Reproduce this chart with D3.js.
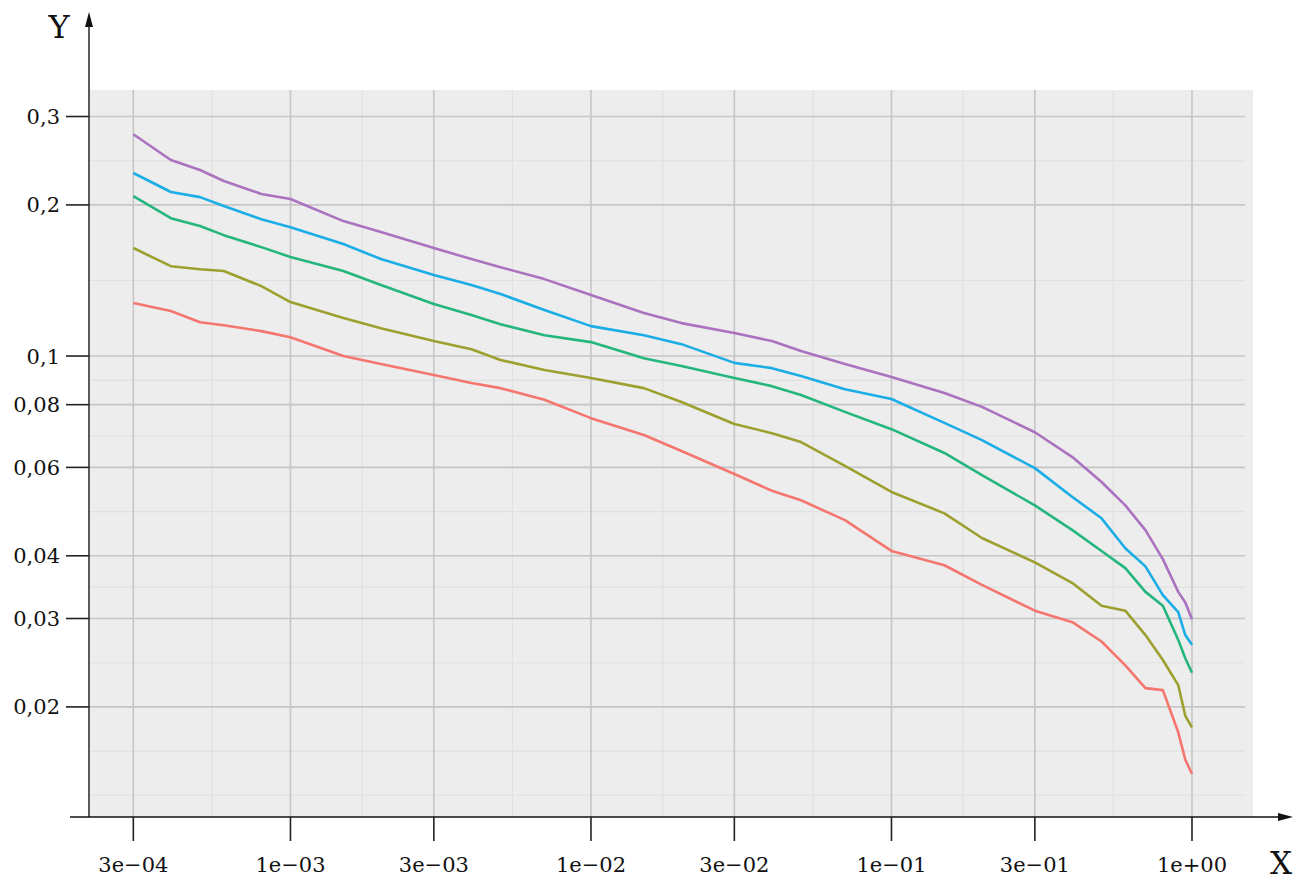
<!DOCTYPE html>
<html>
<head>
<meta charset="utf-8">
<script src="https://cdn.jsdelivr.net/npm/d3@7"></script>
<style>
  html, body { margin: 0; padding: 0; background: #ffffff; }
  svg { display: block; }
</style>
</head>
<body>
<svg id="chart" width="1301" height="880"></svg>
<script>
// Shared x positions (log scale)
const xValues = [3e-4, 4e-4, 5e-4, 6e-4, 8e-4, 1e-3, 1.5e-3, 2e-3, 3e-3, 4e-3, 5e-3, 7e-3,
  1e-2, 1.5e-2, 2e-2, 3e-2, 4e-2, 5e-2, 7e-2, 0.1, 0.15, 0.2, 0.3, 0.4, 0.5, 0.6, 0.7, 0.8, 0.9, 0.95, 1];

// Series values, bottom curve to top curve
const seriesA = [0.1275, 0.1229, 0.1168, 0.1152, 0.1121, 0.1090, 0.1000, 0.0964, 0.0917, 0.0884, 0.0863, 0.0818,
  0.0752, 0.0696, 0.0647, 0.0582, 0.0539, 0.0516, 0.0471, 0.0409, 0.0383, 0.0350, 0.0311, 0.0295, 0.0270, 0.0242,
  0.0218, 0.0216, 0.0178, 0.0157, 0.0147];
const seriesB = [0.1641, 0.1510, 0.1489, 0.1477, 0.1378, 0.1281, 0.1190, 0.1136, 0.1071, 0.1032, 0.0982, 0.0938,
  0.0904, 0.0863, 0.0810, 0.0732, 0.0702, 0.0674, 0.0604, 0.0536, 0.0486, 0.0434, 0.0388, 0.0353, 0.0318, 0.0311,
  0.0278, 0.0248, 0.0221, 0.0192, 0.0182];
const seriesC = [0.2083, 0.1882, 0.1815, 0.1741, 0.1648, 0.1575, 0.1477, 0.1385, 0.1269, 0.1207, 0.1157, 0.1100,
  0.1066, 0.0990, 0.0955, 0.0904, 0.0871, 0.0836, 0.0774, 0.0715, 0.0641, 0.0579, 0.0504, 0.0450, 0.0409, 0.0378,
  0.0339, 0.0318, 0.0272, 0.0250, 0.0234];
const seriesD = [0.2315, 0.2122, 0.2073, 0.1990, 0.1873, 0.1806, 0.1672, 0.1560, 0.1450, 0.1385, 0.1329, 0.1235,
  0.1147, 0.1100, 0.1056, 0.0969, 0.0946, 0.0912, 0.0859, 0.0821, 0.0736, 0.0680, 0.0598, 0.0524, 0.0475, 0.0414,
  0.0381, 0.0334, 0.0309, 0.0278, 0.0266];
const seriesE = [0.2766, 0.2457, 0.2347, 0.2232, 0.2103, 0.2055, 0.1857, 0.1766, 0.1641, 0.1560, 0.1503, 0.1423,
  0.1323, 0.1218, 0.1163, 0.1111, 0.1071, 0.1023, 0.0964, 0.0908, 0.0844, 0.0792, 0.0705, 0.0629, 0.0561, 0.0504,
  0.0450, 0.0394, 0.0339, 0.0323, 0.0299];

const seriesColors = ["#F4766E", "#9DA02F", "#24B67D", "#1BADE5", "#AA72BF"];

// Axis breaks and labels
const xBreaks = [3e-4, 1e-3, 3e-3, 1e-2, 3e-2, 1e-1, 3e-1, 1];
const xLabels = ["3e\u221204", "1e\u221203", "3e\u221203", "1e\u221202", "3e\u221202", "1e\u221201", "3e\u221201", "1e+00"];
const yBreaks = [0.02, 0.03, 0.04, 0.06, 0.08, 0.1, 0.2, 0.3];
const yLabels = ["0,02", "0,03", "0,04", "0,06", "0,08", "0,1", "0,2", "0,3"];

const svg = d3.select("#chart");

const panel = { left: 89, right: 1253, top: 90, bottom: 817 };

const x = d3.scaleLog().domain([2.136e-4, 1.596]).range([panel.left, panel.right]);
const y = d3.scaleLog().domain([0.01207, 0.3388]).range([panel.bottom, panel.top]);

// Panel background
svg.append("rect")
  .attr("x", panel.left).attr("y", panel.top)
  .attr("width", panel.right - panel.left).attr("height", panel.bottom - panel.top)
  .attr("fill", "#EDEDED");

// Minor breaks: halfway (in log space) between neighbouring breaks,
// with one extra break extrapolated beyond each end.
function minorBreaks(breaks, scale) {
  const lb = breaks.map(Math.log10);
  const ext = [2 * lb[0] - lb[1], ...lb, 2 * lb[lb.length - 1] - lb[lb.length - 2]];
  const out = [];
  for (let i = 0; i < ext.length - 1; i++) out.push(Math.pow(10, (ext[i] + ext[i + 1]) / 2));
  // the extrapolated breaks themselves become minor lines
  out.push(Math.pow(10, ext[0]), Math.pow(10, ext[ext.length - 1]));
  const [d0, d1] = scale.domain();
  return out.filter(v => v > d0 && v < d1);
}

const grid = svg.append("g");
const hEnd = 1245;

// minor grid
grid.selectAll(".ymin").data(minorBreaks(yBreaks, y)).enter().append("line")
  .attr("x1", panel.left).attr("x2", hEnd)
  .attr("y1", d => y(d)).attr("y2", d => y(d))
  .attr("stroke", "#E0E0E0").attr("stroke-width", 1.1);
grid.selectAll(".xmin").data(minorBreaks(xBreaks, x)).enter().append("line")
  .attr("y1", panel.top).attr("y2", panel.bottom)
  .attr("x1", d => x(d)).attr("x2", d => x(d))
  .attr("stroke", "#E0E0E0").attr("stroke-width", 1.1);

// major grid
grid.selectAll(".ymaj").data(yBreaks).enter().append("line")
  .attr("x1", panel.left).attr("x2", hEnd)
  .attr("y1", d => y(d)).attr("y2", d => y(d))
  .attr("stroke", "#C6C6C6").attr("stroke-width", 1.6);
grid.selectAll(".xmaj").data(xBreaks).enter().append("line")
  .attr("y1", panel.top).attr("y2", panel.bottom)
  .attr("x1", d => x(d)).attr("x2", d => x(d))
  .attr("stroke", "#C6C6C6").attr("stroke-width", 1.6);

// Curves
const allSeries = [seriesA, seriesB, seriesC, seriesD, seriesE];
const line = d3.line()
  .x(d => x(d[0]))
  .y(d => y(d[1]))
  .curve(d3.curveLinear);

svg.append("g").selectAll("path").data(allSeries).enter().append("path")
  .attr("d", s => line(xValues.map((xv, i) => [xv, s[i]])))
  .attr("fill", "none")
  .attr("stroke", (s, i) => seriesColors[i])
  .attr("stroke-width", 2.6)
  .attr("stroke-linejoin", "round");

// Axes
const axisColor = "#333333";
const fontFamily = "'DejaVu Serif', serif";

// y axis line with arrow
svg.append("line")
  .attr("x1", panel.left).attr("x2", panel.left)
  .attr("y1", panel.bottom).attr("y2", 24)
  .attr("stroke", axisColor).attr("stroke-width", 1.6);
svg.append("path")
  .attr("d", `M${panel.left},12 L${panel.left - 4},27 L${panel.left + 4},27 Z`)
  .attr("fill", "#111");

// x axis line with arrow
svg.append("line")
  .attr("x1", 70).attr("x2", 1282)
  .attr("y1", panel.bottom).attr("y2", panel.bottom)
  .attr("stroke", "#111").attr("stroke-width", 1.6);
svg.append("path")
  .attr("d", `M1293,${panel.bottom} L1278,${panel.bottom - 4} L1278,${panel.bottom + 4} Z`)
  .attr("fill", "#111");

// y ticks and labels
const yAxis = svg.append("g");
yAxis.selectAll("line").data(yBreaks).enter().append("line")
  .attr("x1", 66).attr("x2", panel.left)
  .attr("y1", d => y(d)).attr("y2", d => y(d))
  .attr("stroke", "#222").attr("stroke-width", 1.6);
yAxis.selectAll("text").data(yBreaks).enter().append("text")
  .attr("x", 60).attr("y", d => y(d))
  .attr("dy", "0.36em")
  .attr("text-anchor", "end")
  .attr("font-family", fontFamily).attr("font-size", 21)
  .attr("fill", "#111")
  .text((d, i) => yLabels[i]);

// x ticks and labels
const xAxis = svg.append("g");
xAxis.selectAll("line").data(xBreaks).enter().append("line")
  .attr("y1", panel.bottom).attr("y2", 841)
  .attr("x1", d => x(d)).attr("x2", d => x(d))
  .attr("stroke", "#222").attr("stroke-width", 1.6);
xAxis.selectAll("text").data(xBreaks).enter().append("text")
  .attr("x", d => x(d)).attr("y", 872)
  .attr("text-anchor", "middle")
  .attr("font-family", fontFamily).attr("font-size", 21)
  .attr("fill", "#111")
  .text((d, i) => xLabels[i]);

// Axis titles
svg.append("text")
  .attr("x", 59).attr("y", 38)
  .attr("text-anchor", "middle")
  .attr("font-family", fontFamily).attr("font-size", 32)
  .attr("fill", "#111")
  .text("Y");
svg.append("text")
  .attr("x", 1281).attr("y", 874)
  .attr("text-anchor", "middle")
  .attr("font-family", fontFamily).attr("font-size", 31)
  .attr("fill", "#111")
  .text("X");
</script>
</body>
</html>
